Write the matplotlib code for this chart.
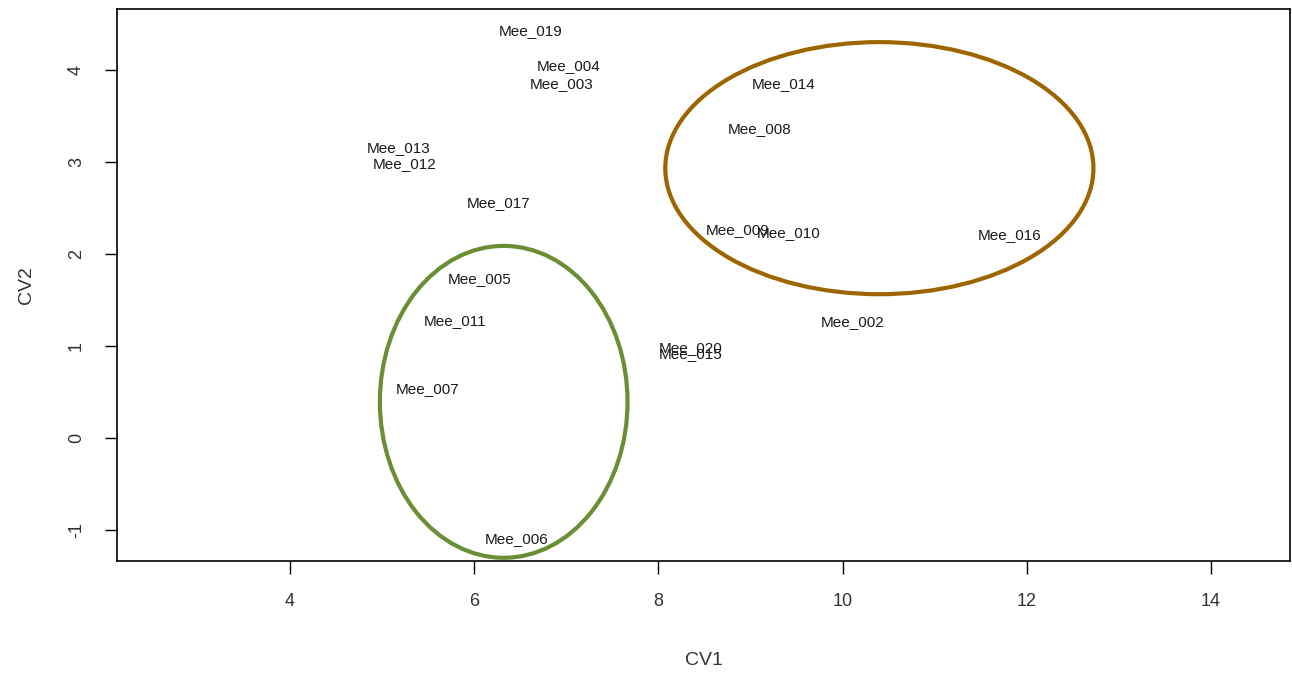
import matplotlib
matplotlib.use("Agg")
import matplotlib.pyplot as plt
from matplotlib.patches import Ellipse

plt.rcParams["font.family"] = ["Liberation Sans", "DejaVu Sans"]

# ---- data ----
labels = ["Mee_019", "Mee_004", "Mee_003", "Mee_013", "Mee_012", "Mee_017",
          "Mee_005", "Mee_011", "Mee_007", "Mee_006", "Mee_020", "Mee_015",
          "Mee_014", "Mee_008", "Mee_009", "Mee_010", "Mee_016", "Mee_002"]
cv1 = [6.61, 7.02, 6.95, 5.18, 5.24, 6.26,
       6.06, 5.79, 5.49, 6.46, 8.35, 8.35,
       9.36, 9.10, 8.86, 9.41, 11.81, 10.11]
cv2 = [4.42, 4.04, 3.85, 3.15, 2.97, 2.55,
       1.72, 1.27, 0.53, -1.10, 0.97, 0.91,
       3.85, 3.36, 2.26, 2.23, 2.20, 1.26]

# group outlines: centre x, centre y, width, height
groups = [
    (10.40, 2.93, 4.65, 2.74, "#9c6500"),
    (6.32, 0.39, 2.69, 3.39, "#6b8e35"),
]

xticks = [4, 6, 8, 10, 12, 14]
yticks = [-1, 0, 1, 2, 3, 4]

fig = plt.figure(figsize=(12.92, 6.75), dpi=100)
ax = fig.add_axes([117 / 1292, 1 - 561 / 675, (1290 - 117) / 1292, (561 - 9) / 675])

# labels at the same spot overlap, as in the original R plot
for lab, x, y in zip(labels, cv1, cv2):
    ax.text(x, y, lab, ha="center", va="center", fontsize=11, color="#1a1a1a")

for cx, cy, w, h, col in groups:
    ax.add_patch(Ellipse((cx, cy), w, h, fill=False, edgecolor=col, linewidth=3))

ax.set_xlim(2.12, 14.86)
ax.set_ylim(-1.34, 4.66)
ax.set_xticks(xticks)
ax.set_yticks(yticks)
ax.set_xticklabels([str(t) for t in xticks], fontsize=13, color="#333333")
ax.set_yticklabels([str(t) for t in yticks], fontsize=13, color="#333333",
                   rotation=90, va="center")
ax.tick_params(direction="out", length=9, width=1, pad=14)
for s in ax.spines.values():
    s.set_linewidth(1.2)
    s.set_color("black")

ax.set_xlabel("CV1", fontsize=14, color="#333333", labelpad=30)
ax.set_ylabel("CV2", fontsize=14, color="#333333", labelpad=24)

fig.savefig("out.png", dpi=100)
